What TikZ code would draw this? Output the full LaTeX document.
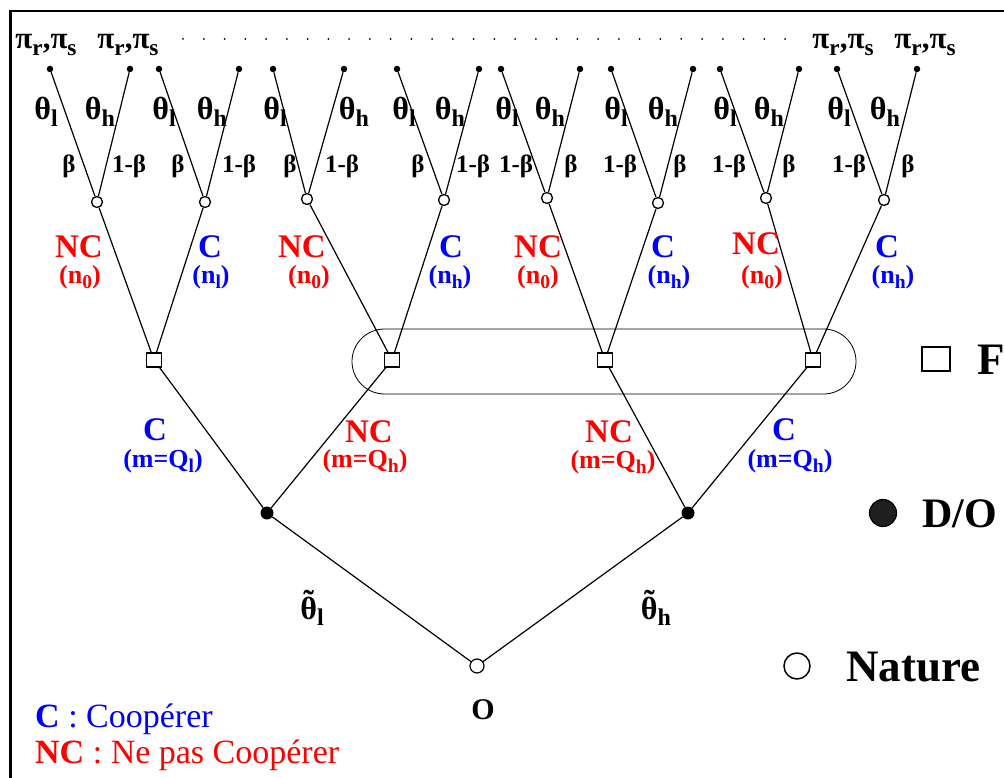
\documentclass[tikz,border=0pt]{standalone}
\usepackage{fontspec}
\setmainfont{Liberation Serif}
\newcommand\sbs[1]{\raisebox{-0.2em}{\scalebox{0.75}{#1}}}
\newcommand\tth{{\setbox0\hbox{θ}\rlap{\hbox to\wd0{\hss\raisebox{0.22em}{˜}\hss}}θ}}
\newcommand\fs[1]{\fontsize{#1}{#1}\selectfont}
\tikzset{
  leaf/.style={circle,fill=black,inner sep=0pt,minimum size=6.5pt},
  chance/.style={circle,draw,fill=white,inner sep=0pt,minimum size=11pt,line width=1.3pt},
  firm/.style={rectangle,draw,fill=white,inner sep=0pt,minimum width=15pt,minimum height=14pt,line width=1.3pt},
  dec/.style={circle,fill=black,inner sep=0pt,minimum size=13pt},
  nat/.style={circle,draw,fill=white,inner sep=0pt,minimum size=14pt,line width=1.2pt},
  edge/.style={line width=1.2pt},
  lbl/.style={inner sep=0pt},
  thl/.style={lbl,font=\fs{32}\bfseries},
  prl/.style={lbl,font=\fs{25}\bfseries},
  pil/.style={lbl,font=\fs{31}\bfseries},
  actl/.style={lbl,font=\fs{33}\bfseries},
  subl/.style={lbl,font=\fs{26}\bfseries},
  leg/.style={lbl,font=\fs{45}\bfseries},
}
\begin{document}
\begin{tikzpicture}[x=1pt,y=-1pt]
\useasboundingbox (0,0) rectangle (1004,778);
% frame
\draw[line width=2.3pt] (10.5,778) -- (10.5,11) -- (1004,11);
% info set
\node[draw,rounded corners=32.5pt,minimum width=504pt,minimum height=65pt,line width=0.8pt,inner sep=0pt] (info) at (604,361.5) {};
% nodes
\node[nat] (o) at (477,666) {};
\node[dec] (d1) at (267,513) {};
\node[dec] (d2) at (688,513) {};
\node[firm] (f1) at (154,360) {};
\node[firm] (f2) at (392,360) {};
\node[firm] (f3) at (605,360) {};
\node[firm] (f4) at (813,360) {};
\node[chance] (c1) at (97,202) {};
\node[chance] (c2) at (205,202) {};
\node[chance] (c3) at (307,199) {};
\node[chance] (c4) at (444,200) {};
\node[chance] (c5) at (547,198) {};
\node[chance] (c6) at (658,203) {};
\node[chance] (c7) at (766,198) {};
\node[chance] (c8) at (884,200) {};
\node[leaf] (l1a) at (50,69) {};  \node[leaf] (l1b) at (130,69) {};
\node[leaf] (l2a) at (159,69) {}; \node[leaf] (l2b) at (239,69) {};
\node[leaf] (l3a) at (273,69) {}; \node[leaf] (l3b) at (344,69) {};
\node[leaf] (l4a) at (397,69) {}; \node[leaf] (l4b) at (479,69) {};
\node[leaf] (l5a) at (501,69) {}; \node[leaf] (l5b) at (580,69) {};
\node[leaf] (l6a) at (611,69) {}; \node[leaf] (l6b) at (693,69) {};
\node[leaf] (l7a) at (720,69) {}; \node[leaf] (l7b) at (799,69) {};
\node[leaf] (l8a) at (837,69) {}; \node[leaf] (l8b) at (917,69) {};
% edges
\draw[edge] (o) -- (d1); \draw[edge] (o) -- (d2);
\draw[edge] (d1) -- (f1); \draw[edge] (d1) -- (f2);
\draw[edge] (d2) -- (f3); \draw[edge] (d2) -- (f4);
\draw[edge] (f1) -- (c1); \draw[edge] (f1) -- (c2);
\draw[edge] (f2) -- (c3); \draw[edge] (f2) -- (c4);
\draw[edge] (f3) -- (c5); \draw[edge] (f3) -- (c6);
\draw[edge] (f4) -- (c7); \draw[edge] (f4) -- (c8);
\foreach \i in {1,...,8}{
  \draw[edge] (c\i) -- (l\i a);
  \draw[edge] (c\i) -- (l\i b);
}
% payoffs
\node[pil] (p1) at (46,45) {π\sbs{r},π\sbs{s}};
\node[pil] (p2) at (128,45) {π\sbs{r},π\sbs{s}};
\node[pil] (p3) at (843,45) {π\sbs{r},π\sbs{s}};
\node[pil] (p4) at (925,45) {π\sbs{r},π\sbs{s}};
\foreach \i in {0,...,29} \fill (183+20.76*\i,39) circle (1pt);
% theta labels
\foreach \x/\n in {46/1,164/2,275/3,404/4,507/5,616/6,725/7,839/8}
  \node[thl] (tl\n) at (\x,112) {θ\sbs{l}};
\foreach \x/\n in {100/1,212/2,354/3,450/4,550/5,663/6,769/7,885/8}
  \node[thl] (th\n) at (\x,112) {θ\sbs{h}};
% beta labels
\foreach \x/\n in {69/1,178/2,290/3,418/4,571/5,680/6,789/7,908/8}
  \node[prl] (b\n) at (\x,166) {β};
\foreach \x/\n in {129/1,239/2,342/3,473/4,516/5,620/6,729/7,849/8}
  \node[prl] (ob\n) at (\x,166) {1-β};
% firm actions
\node[actl,red] (a1) at (79,247) {NC};   \node[subl,red] (s1) at (80,277) {(n\sbs{0})};
\node[actl,blue] (a2) at (210,247) {C};  \node[subl,blue] (s2) at (211,277) {(n\sbs{l})};
\node[actl,red] (a3) at (302,247) {NC};  \node[subl,red] (s3) at (309,277) {(n\sbs{0})};
\node[actl,blue] (a4) at (451,247) {C};  \node[subl,blue] (s4) at (450,277) {(n\sbs{h})};
\node[actl,red] (a5) at (538,247) {NC};  \node[subl,red] (s5) at (538,277) {(n\sbs{0})};
\node[actl,blue] (a6) at (663,247) {C};  \node[subl,blue] (s6) at (669,277) {(n\sbs{h})};
\node[actl,red] (a7) at (756,244) {NC};  \node[subl,red] (s7) at (762,277) {(n\sbs{0})};
\node[actl,blue] (a8) at (887,247) {C};  \node[subl,blue] (s8) at (893,277) {(n\sbs{h})};
% D/O actions
\node[actl,blue] (m1) at (155,430) {C};   \node[subl,blue] (q1) at (163,461) {(m=Q\sbs{l})};
\node[actl,red] (m2) at (369,432) {NC};   \node[subl,red] (q2) at (365,461) {(m=Q\sbs{h})};
\node[actl,red] (m3) at (609,432) {NC};   \node[subl,red] (q3) at (613,462) {(m=Q\sbs{h})};
\node[actl,blue] (m4) at (784,430) {C};   \node[subl,blue] (q4) at (790,461) {(m=Q\sbs{h})};
% nature
\node[thl] (nl) at (312,608) {\tth\sbs{l}};
\node[thl] (nh) at (656,608) {\tth\sbs{h}};
\node[lbl,font=\fs{30}\bfseries] (olab) at (483,710) {O};
% legend
\node[draw,line width=1.5pt,inner sep=0pt,minimum width=28pt,minimum height=24pt] (lgf) at (936,359) {};
\node[leg,anchor=base west] (lgft) at (977,374) {F};
\node[circle,draw,fill=black!88,line width=1.2pt,inner sep=0pt,minimum size=27pt] (lgd) at (883,513) {};
\node[leg,anchor=base west,font=\fs{42}\bfseries] (lgdt) at (922,527) {D/O};
\node[circle,draw,line width=1.5pt,inner sep=0pt,minimum size=26pt] (lgn) at (797,666) {};
\node[leg,anchor=base west] (lgnt) at (846,681) {Nature};
\node[lbl,anchor=base west,font=\fs{34},blue] (k1) at (35,727) {\textbf{C} : Coopérer};
\node[lbl,anchor=base west,font=\fs{34},red] (k2) at (35,763) {\textbf{NC} : Ne pas Coopérer};
\end{tikzpicture}
\end{document}
